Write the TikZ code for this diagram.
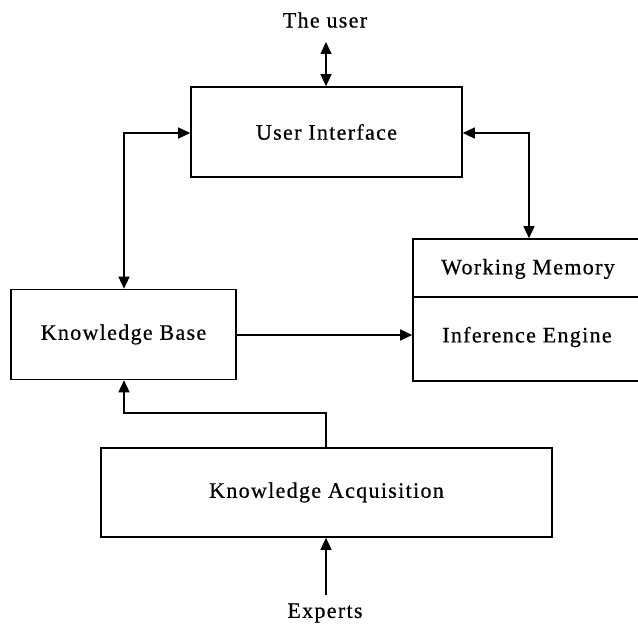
\documentclass[tikz,border=0pt]{standalone}
\usepackage{fontspec}
\setmainfont{Liberation Serif}[LetterSpace=6, FakeBold=0.6]
\usetikzlibrary{arrows.meta}
\begin{document}
\begin{tikzpicture}[x=1pt,y=-1pt,
  every node/.style={font=\fontsize{22}{26}\selectfont},
  box/.style={draw, line width=1.6pt, rectangle, inner sep=0pt},
  lbl/.style={inner sep=0pt},
  link/.style={line width=1.5pt, -{Triangle[length=12pt,width=11pt]}},
  dlink/.style={line width=1.5pt, {Triangle[length=12pt,width=11pt]}-{Triangle[length=12pt,width=11pt]}}]
  \useasboundingbox (0,0) rectangle (638,628);

  % main blocks
  \node[box, minimum width=271pt, minimum height=90pt] (ui) at (326.5,132) {User Interface};
  \node[box, minimum width=225pt, minimum height=90pt] (kb) at (123.5,334.5) {Knowledge Base};
  \node[box, minimum width=451pt, minimum height=89pt] (ka) at (326.5,492.5) {Knowledge Acquisition};

  % working memory stacked over the inference engine (runs off the right edge)
  \node[box, minimum width=250pt, minimum height=58pt] (wm) at (538,268) {};
  \node[box, minimum width=250pt, minimum height=84pt] (ie) at (538,339) {};
  \node[lbl] at (528,269) {Working Memory};
  \node[lbl] at (527,337) {Inference Engine};

  % external actors
  \node[lbl] (user) at (325,20) {The user};
  \node[lbl] (exp) at (325,613) {Experts};

  % connectors
  \coordinate (ut) at (326,42);
  \coordinate (eb) at (326,595);
  \draw[dlink] (ut) -- (ui.north -| ut);
  \draw[dlink] (ui.west |- 0,133) -| (kb.north -| 124,0);
  \draw[dlink] (ui.east |- 0,133) -| (wm.north -| 529,0);
  \draw[link] (kb.east |- 0,335) -- (ie.west |- 0,335);
  \draw[link] (ka.north -| 326,0) |- (124,413) -- (kb.south -| 124,0);
  \draw[link] (eb) -- (ka.south -| eb);
\end{tikzpicture}
\end{document}
